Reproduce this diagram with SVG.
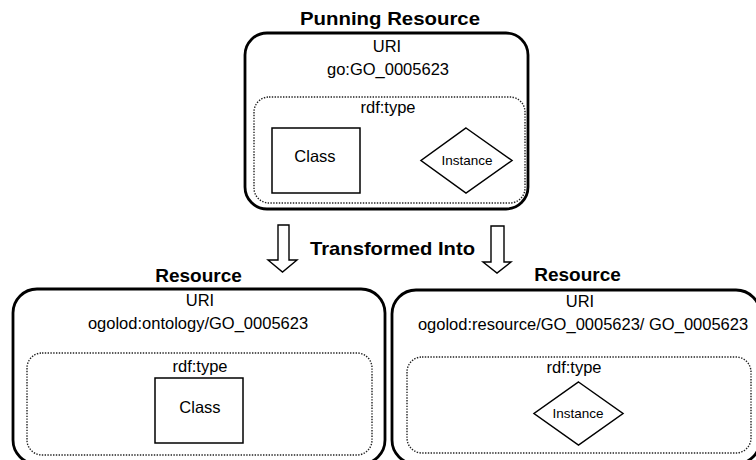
<svg xmlns="http://www.w3.org/2000/svg" width="756" height="460" viewBox="0 0 756 460">
<style>
.outer{fill:none;stroke:#000;stroke-width:2.8}
.inner{fill:none;stroke:#222;stroke-width:1.4;stroke-dasharray:1.4 1.4}
.shape{fill:#fff;stroke:#000;stroke-width:1.5}
.arrow{fill:#fff;stroke:#000;stroke-width:1.4;stroke-linejoin:miter}
.t{font-family:"Liberation Sans",Arial,sans-serif;font-size:16.5px;fill:#000;text-anchor:middle}
.s{font-size:13.5px}
.b{font-family:"Liberation Sans",Arial,sans-serif;font-weight:bold;font-size:19px;fill:#000;text-anchor:middle}
</style>
<rect width="756" height="460" fill="#fff"/>
<g id="punning">
<text class="b" x="390" y="25" textLength="180" lengthAdjust="spacingAndGlyphs">Punning Resource</text>
<rect class="outer" x="245" y="33" width="283" height="176" rx="22"/>
<text class="t" x="387" y="52">URI</text>
<text class="t" x="388" y="75">go:GO_0005623</text>
<rect class="inner" x="254" y="97" width="271" height="106" rx="15"/>
<text class="t" x="388" y="113">rdf:type</text>
<g id="p-class"><rect class="shape" x="272" y="128" width="88" height="65"/><text class="t" x="315" y="162">Class</text></g>
<g id="p-instance"><polygon class="shape" points="466,128 512,160.5 466,193 421,160.5"/><text class="t s" x="467" y="165">Instance</text></g>
</g>
<g id="connectors">
<polygon class="arrow" points="278,225 289,225 289,260 297,260 282.5,272 268,260 278,260"/>
<polygon class="arrow" points="491,226 504,226 504,262 511,262 497,273 483,262 491,262"/>
<text class="b" x="392.5" y="255" textLength="165" lengthAdjust="spacingAndGlyphs">Transformed Into</text>
</g>
<g id="res-class">
<text class="b" x="198.5" y="282">Resource</text>
<rect class="outer" x="13" y="289" width="372" height="175" rx="24"/>
<text class="t" x="200" y="306">URI</text>
<text class="t" x="198" y="329">ogolod:ontology/GO_0005623</text>
<rect class="inner" x="27" y="353" width="345" height="102" rx="15"/>
<text class="t" x="200" y="372">rdf:type</text>
<rect class="shape" x="155" y="378" width="88" height="65"/>
<text class="t" x="200" y="413">Class</text>
</g>
<g id="res-instance">
<text class="b" x="577.5" y="281">Resource</text>
<rect class="outer" x="392" y="290" width="368" height="174" rx="24"/>
<text class="t" x="580" y="307">URI</text>
<text class="t" x="583" y="330">ogolod:resource/GO_0005623/ GO_0005623</text>
<rect class="inner" x="407" y="357" width="344" height="96" rx="15"/>
<text class="t" x="574" y="373">rdf:type</text>
<polygon class="shape" points="578.5,382 623,413.5 578.5,445 534,413.5"/>
<text class="t s" x="578" y="418">Instance</text>
</g>
</svg>
